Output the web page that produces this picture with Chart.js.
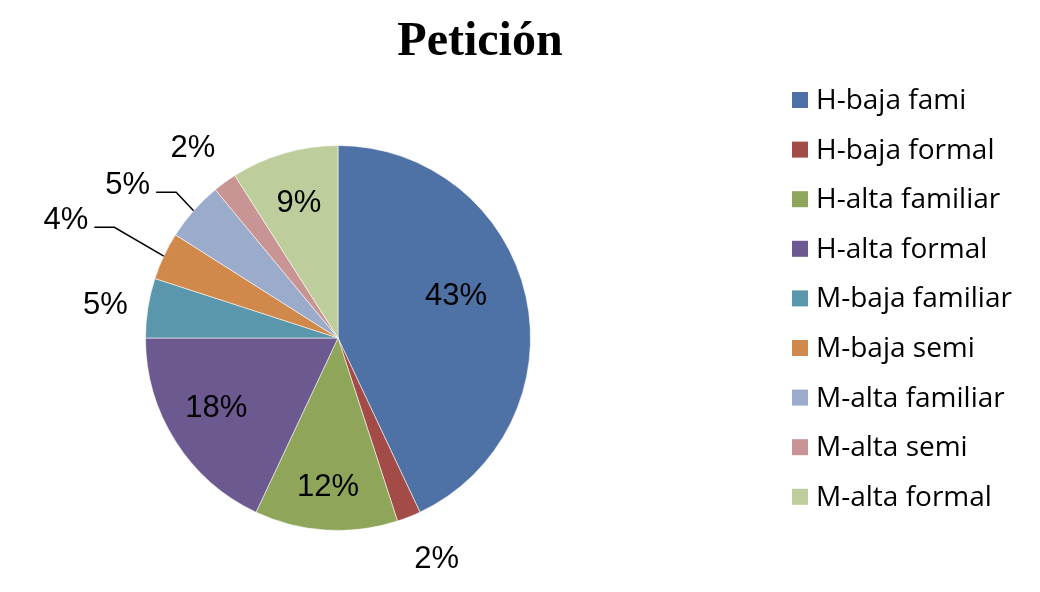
<!DOCTYPE html>
<html>
<head>
<meta charset="utf-8">
<script src="https://cdn.jsdelivr.net/npm/chart.js@4/dist/chart.umd.min.js"></script>
<style>
html,body{margin:0;padding:0;background:#fff;}
#wrap{width:1040px;height:592px;position:relative;}
</style>
</head>
<body>
<div id="wrap"><canvas id="c" width="1040" height="592"></canvas></div>
<script>
const title = "Petición";
const categories = ["H-baja fami","H-baja formal","H-alta familiar","H-alta formal","M-baja familiar","M-baja semi","M-alta familiar","M-alta semi","M-alta formal"];
const values = [43, 2, 12, 18, 5, 4, 5, 2, 9];
const colors = ["#4E71A6","#A24B47","#8EA55A","#6C5990","#5A97AC","#D0894B","#9AABCB","#C99594","#BECD9C"];

// label placement: radius factor (of pie radius), angle tweak (deg), leader line
const labelLayout = [
  {r:0.65, da:-6.8, leader:false},
  {r:1.26, da:-2.4, leader:false},
  {r:0.78, da:0.2, leader:false},
  {r:0.73, da:2.4, leader:false},
  {r:1.22, da:-1.0, leader:false},
  {r:1.54, da:-1.8, leader:true},
  {r:1.35, da:-5.4, leader:true},
  {r:1.24, da:-1.4, leader:false},
  {r:0.73, da:0, leader:false}
];

const pctFont = '31px "Liberation Sans", Arial, sans-serif';

const overlay = {
  id:'overlay',
  afterDatasetsDraw(chart){
    const ctx = chart.ctx;
    const meta = chart.getDatasetMeta(0);
    const total = values.reduce((a,b)=>a+b,0);
    ctx.save();
    ctx.font = pctFont;
    ctx.fillStyle = '#000';
    ctx.textAlign = 'center';
    ctx.textBaseline = 'middle';
    meta.data.forEach((arc,i)=>{
      const p = arc.getProps(['x','y','startAngle','endAngle','outerRadius'], true);
      const mid = (p.startAngle + p.endAngle)/2;
      const L = labelLayout[i];
      const a = mid + L.da*Math.PI/180;
      const tx = p.x + Math.cos(a)*p.outerRadius*L.r;
      const ty = p.y + Math.sin(a)*p.outerRadius*L.r;
      const txt = Math.round(values[i]/total*100) + '%';
      ctx.fillText(txt, tx, ty);
      if (L.leader){
        const w = ctx.measureText(txt).width;
        const x0 = tx + w/2 + 6, y0 = ty + 7;
        const x1 = x0 + 20;
        const ex = p.x + Math.cos(mid)*p.outerRadius;
        const ey = p.y + Math.sin(mid)*p.outerRadius;
        ctx.beginPath();
        ctx.moveTo(x0,y0); ctx.lineTo(x1,y0); ctx.lineTo(ex,ey);
        ctx.strokeStyle = '#000'; ctx.lineWidth = 1.5;
        ctx.stroke();
      }
    });
    // title
    ctx.font = 'bold 48px "Liberation Serif", "Times New Roman", serif';
    ctx.textAlign = 'center';
    ctx.textBaseline = 'alphabetic';
    ctx.fillText(title, 480, 55);
    // legend
    ctx.font = '28px "Open Sans", "Noto Sans", sans-serif';
    ctx.textAlign = 'left';
    ctx.textBaseline = 'middle';
    chart.data.labels.forEach((lab,i)=>{
      const cy = 100 + i*49.6;
      ctx.fillStyle = chart.data.datasets[0].backgroundColor[i];
      ctx.fillRect(792, cy-8, 16, 16);
      ctx.fillStyle = '#000';
      ctx.fillText(lab, 816, cy+1);
    });
    ctx.restore();
  }
};

new Chart(document.getElementById('c'), {
  type:'pie',
  data:{
    labels: categories,
    datasets:[{
      data: values,
      backgroundColor: colors,
      borderColor: 'rgba(255,255,255,0.55)',
      borderWidth: 1
    }]
  },
  options:{
    responsive:false,
    animation:false,
    layout:{padding:{left:145, right:509, top:145, bottom:61}},
    plugins:{legend:{display:false}, tooltip:{enabled:false}, title:{display:false}}
  },
  plugins:[overlay]
});
</script>
</body>
</html>
